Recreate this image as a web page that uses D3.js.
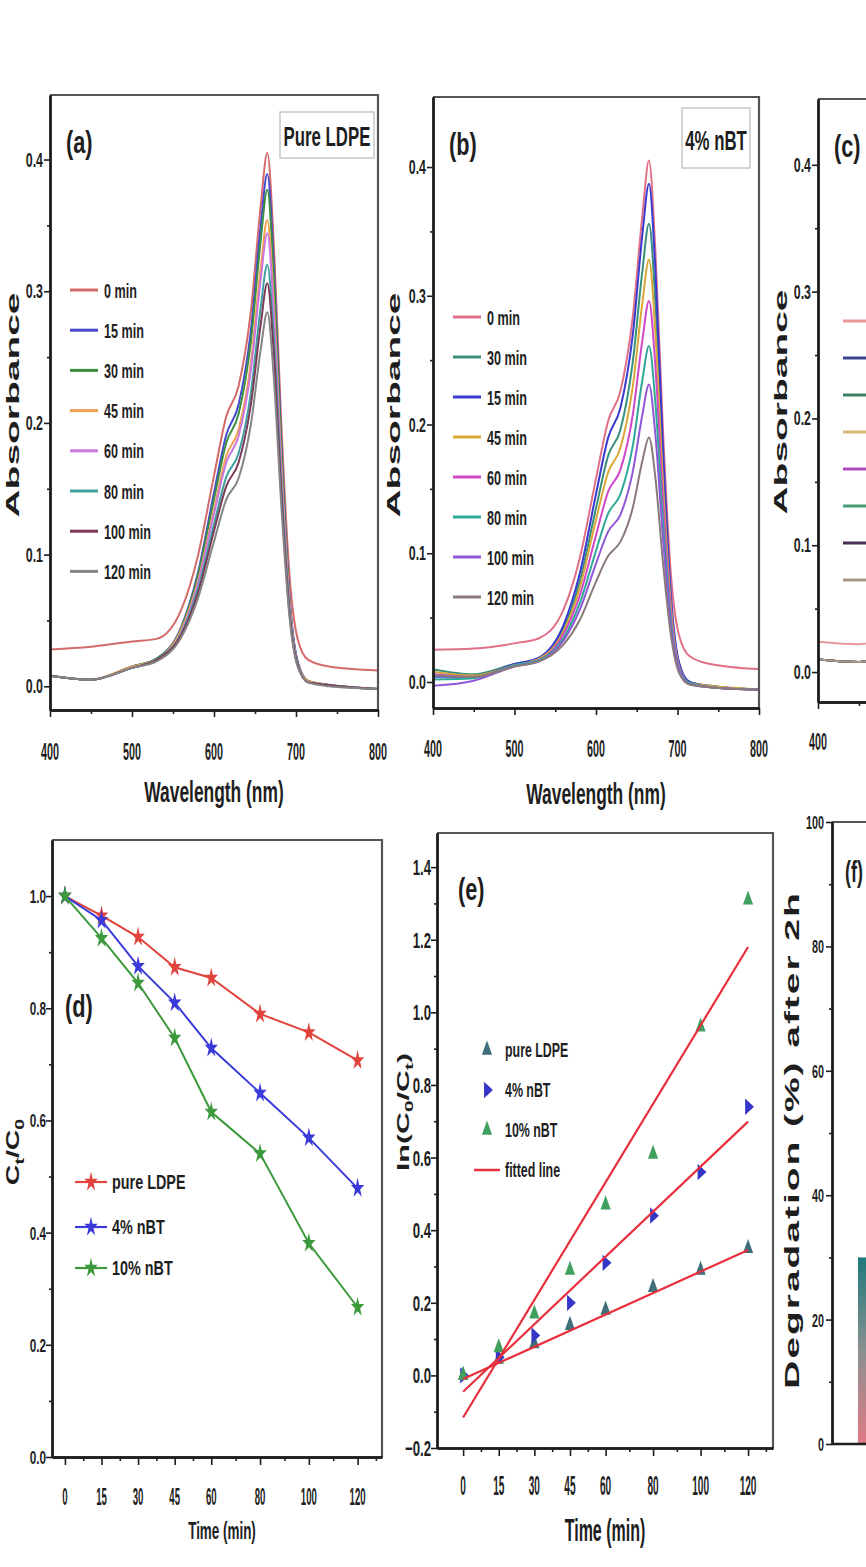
<!DOCTYPE html>
<html><head><meta charset="utf-8">
<script src="https://cdn.jsdelivr.net/npm/d3@7"></script>
<style>body{margin:0;background:#fff;}svg{display:block;}</style>
</head><body>
<svg id="fig" width="866" height="1567"></svg>
<script>
// ---------------- DATA ----------------
const wavelengths = [400,450,500,530,560,580,600,615,630,645,657,665,673,682,692,702,715,740,800];
const xTicksSpectra = [400,500,600,700,800];
const yTicksSpectra = [0.0,0.1,0.2,0.3,0.4];

const labelsA = ["0 min","15 min","30 min","45 min","60 min","80 min","100 min","120 min"];
const spectraA = [
  [0.028,0.030,0.034,0.036,0.058,0.098,0.160,0.205,0.228,0.285,0.365,0.405,0.335,0.200,0.085,0.036,0.020,0.015,0.012],
  [0.008,0.005,0.015,0.021,0.045,0.085,0.147,0.191,0.214,0.270,0.350,0.389,0.320,0.186,0.069,0.019,0.004,0.001,-0.002],
  [0.008,0.005,0.015,0.021,0.044,0.083,0.142,0.185,0.207,0.262,0.339,0.377,0.310,0.181,0.067,0.018,0.004,0.001,-0.002],
  [0.008,0.005,0.015,0.020,0.043,0.079,0.134,0.175,0.195,0.246,0.318,0.354,0.291,0.170,0.064,0.017,0.004,0.001,-0.002],
  [0.008,0.005,0.014,0.020,0.041,0.077,0.131,0.170,0.190,0.240,0.309,0.344,0.283,0.165,0.062,0.017,0.003,0.001,-0.002],
  [0.008,0.005,0.014,0.020,0.040,0.073,0.123,0.159,0.177,0.223,0.288,0.320,0.264,0.154,0.058,0.016,0.003,0.001,-0.002],
  [0.008,0.005,0.014,0.020,0.039,0.070,0.118,0.152,0.170,0.214,0.275,0.306,0.252,0.148,0.056,0.016,0.003,0.001,-0.002],
  [0.008,0.005,0.014,0.019,0.037,0.066,0.110,0.142,0.158,0.199,0.256,0.284,0.234,0.138,0.053,0.015,0.003,0.000,-0.002]
];
const colorsA = ["#d46a6a","#4848d0","#3a9040","#f0a050","#c878e0","#40a0a0","#7a3a58","#858585"];

const labelsB = ["0 min","30 min","15 min","45 min","60 min","80 min","100 min","120 min"];
const spectraB = [
  [0.025,0.026,0.030,0.034,0.056,0.096,0.158,0.203,0.226,0.283,0.363,0.405,0.333,0.198,0.083,0.036,0.020,0.014,0.010],
  [0.010,0.006,0.014,0.018,0.041,0.078,0.135,0.176,0.196,0.248,0.320,0.356,0.293,0.170,0.062,0.014,0.000,-0.003,-0.006],
  [0.004,0.004,0.014,0.019,0.044,0.084,0.146,0.190,0.213,0.269,0.348,0.387,0.318,0.184,0.067,0.015,0.000,-0.003,-0.006],
  [0.008,0.005,0.013,0.018,0.039,0.073,0.126,0.163,0.182,0.229,0.295,0.328,0.270,0.157,0.058,0.012,-0.001,-0.003,-0.006],
  [0.006,0.004,0.013,0.017,0.037,0.067,0.114,0.148,0.165,0.207,0.266,0.296,0.244,0.142,0.052,0.011,-0.001,-0.004,-0.006],
  [0.002,0.003,0.013,0.017,0.034,0.061,0.102,0.131,0.146,0.183,0.235,0.261,0.216,0.126,0.047,0.010,-0.001,-0.004,-0.006],
  [-0.003,0.001,0.012,0.016,0.032,0.056,0.092,0.117,0.130,0.163,0.208,0.231,0.191,0.113,0.042,0.009,-0.002,-0.004,-0.006],
  [0.005,0.004,0.012,0.016,0.029,0.048,0.078,0.098,0.109,0.135,0.172,0.190,0.158,0.094,0.036,0.007,-0.002,-0.004,-0.006]
];
const colorsB = ["#e07088","#38907a","#3a3ad0","#d8a838","#d048c8","#30a898","#9058d8","#8a7a7a"];

const labelsC = ["0 min","15 min","30 min","45 min","60 min","80 min","100 min","120 min"];
const spectraC = [
  [0.024,0.022,0.030,0.035,0.058,0.098,0.160,0.205,0.228,0.285,0.365,0.405,0.335,0.200,0.085,0.038,0.022,0.016,0.012],
  [0.010,0.008,0.018,0.022,0.044,0.082,0.141,0.184,0.206,0.259,0.335,0.373,0.307,0.178,0.065,0.016,0.002,-0.001,-0.004],
  [0.010,0.008,0.017,0.021,0.041,0.076,0.129,0.167,0.187,0.236,0.304,0.338,0.278,0.162,0.059,0.015,0.001,-0.001,-0.004],
  [0.010,0.008,0.017,0.021,0.038,0.069,0.116,0.150,0.167,0.210,0.270,0.300,0.247,0.144,0.053,0.013,0.001,-0.001,-0.004],
  [0.010,0.008,0.016,0.020,0.034,0.060,0.097,0.125,0.139,0.174,0.223,0.247,0.204,0.120,0.045,0.011,0.000,-0.002,-0.004],
  [0.010,0.008,0.016,0.019,0.032,0.054,0.088,0.112,0.124,0.155,0.198,0.219,0.181,0.107,0.040,0.010,0.000,-0.002,-0.004],
  [0.010,0.008,0.015,0.018,0.027,0.042,0.064,0.080,0.089,0.109,0.138,0.152,0.127,0.076,0.029,0.007,-0.001,-0.002,-0.004],
  [0.010,0.008,0.015,0.017,0.023,0.034,0.048,0.059,0.064,0.077,0.096,0.105,0.089,0.055,0.022,0.005,-0.001,-0.003,-0.004]
];
const colorsC = ["#e89898","#3c4490","#3a8060","#d8b870","#b048c0","#4a9a78","#4a3050","#a89888"];

const times = [0,15,30,45,60,80,100,120];
const sampleNames = ["pure LDPE","4% nBT","10% nBT"];
const ratioPure = [1.00,0.965,0.927,0.873,0.854,0.790,0.757,0.707];
const ratio4 = [1.00,0.957,0.875,0.810,0.729,0.649,0.569,0.479];
const ratio10 = [1.00,0.925,0.845,0.747,0.615,0.541,0.381,0.267];
const colorsD = ["#e0443c","#3a3ad8","#3c9a3c"];
const yTicksD = [0.0,0.2,0.4,0.6,0.8,1.0];

const lnPure = [0.00,0.045,0.088,0.138,0.180,0.243,0.290,0.350];
const ln4 = [0.00,0.050,0.110,0.200,0.310,0.440,0.560,0.740];
const ln10 = [0.00,0.077,0.170,0.290,0.470,0.610,0.960,1.310];
const fitIntercept = [-0.010,-0.045,-0.116];
const fitSlope = [0.00296,0.0062,0.0108];
const colorsE = ["#3f6f7a","#3535c8","#40a060"];
const yTicksE = [-0.2,0.0,0.2,0.4,0.6,0.8,1.0,1.2,1.4];

const degradation = [30,53,74];
const yTicksF = [0,20,40,60,80,100];

// ---------------- HELPERS ----------------
const svg = d3.select("#fig");
const FONT = "'Liberation Sans', Arial, sans-serif";
const INK = "#1e1e1e";
const defs = svg.append("defs");

function stxt(g,x,y,s,fs,sx,anchor){
  return g.append("text").attr("transform",`translate(${x},${y}) scale(${sx},1)`)
    .attr("font-family",FONT).attr("font-weight","bold").attr("font-size",fs)
    .attr("text-anchor",anchor||"start").attr("fill",INK).text(s);
}
function rtxt(g,x,y,fs,sl,ls){
  return g.append("text").attr("transform",`translate(${x},${y}) rotate(-90) scale(${sl},1)`)
    .attr("font-family",FONT).attr("font-weight","bold").attr("font-size",fs)
    .attr("letter-spacing",ls||0).attr("text-anchor","middle").attr("fill",INK);
}
function styleAxis(sel){
  sel.select(".domain").attr("stroke",INK).attr("stroke-width",2.4);
  sel.selectAll(".tick line").attr("stroke",INK).attr("stroke-width",1.6);
}
function frame(g,L,R,T,B){
  g.append("path").attr("d",`M${L},${T}H${R}V${B}`).attr("fill","none").attr("stroke","#555").attr("stroke-width",2.2);
}
function leftAxis(g,y,L,major,minor){
  g.append("g").attr("transform",`translate(${L},0)`)
   .call(d3.axisLeft(y).tickValues(major).tickSize(6).tickSizeOuter(0).tickFormat("")).call(styleAxis);
  g.append("g").attr("transform",`translate(${L},0)`)
   .call(d3.axisLeft(y).tickValues(minor).tickSize(3).tickSizeOuter(0).tickFormat("")).call(styleAxis);
}
function bottomAxis(g,x,B,major,minor,sz){
  g.append("g").attr("transform",`translate(0,${B})`)
   .call(d3.axisBottom(x).tickValues(major).tickSize(sz||7).tickSizeOuter(0).tickFormat("")).call(styleAxis);
  g.append("g").attr("transform",`translate(0,${B})`)
   .call(d3.axisBottom(x).tickValues(minor).tickSize(4).tickSizeOuter(0).tickFormat("")).call(styleAxis);
}
const f1 = d3.format(".1f");

// ---------------- SPECTRA PANELS ----------------
function spectraPanel(c){
  const g = svg.append("g");
  const x = d3.scaleLinear([400,800],[c.L,c.R]);
  const y = d3.scaleLinear(c.yDom,[c.B,c.T]);
  defs.append("clipPath").attr("id","clip"+c.id).append("rect")
    .attr("x",c.L).attr("y",c.T).attr("width",c.R-c.L).attr("height",c.B-c.T);
  const line = d3.line().x((d,i)=>x(wavelengths[i])).y(d=>y(d)).curve(d3.curveMonotoneX);
  const lg = g.append("g").attr("clip-path",`url(#clip${c.id})`);
  c.series.forEach((s,i)=>{
    lg.append("path").attr("d",line(s)).attr("fill","none").attr("stroke",c.colors[i]).attr("stroke-width",2);
  });
  frame(g,c.L,c.R,c.T,c.B);
  leftAxis(g,y,c.L,yTicksSpectra,[0.05,0.15,0.25,0.35]);
  bottomAxis(g,x,c.B,xTicksSpectra,[450,550,650,750]);
  yTicksSpectra.forEach(v=>stxt(g,c.L-7,y(v)+7,f1(v),20,0.62,"end"));
  xTicksSpectra.forEach(v=>{ if(x(v)<880) stxt(g,x(v),c.xLabY,String(v),24,0.45,"middle"); });
  if(c.title) stxt(g,(c.L+c.R)/2,c.titleY,"Wavelength (nm)",30,0.58,"middle");
  rtxt(g,c.yLabX,c.yLabY,19,2.05,0).text("Absorbance");
  stxt(g,c.L+16,c.T+58,c.tag,32,0.68,"start");
  if(c.box){
    g.append("rect").attr("x",c.box[0]).attr("y",c.box[1]).attr("width",c.box[2]).attr("height",c.box[3])
      .attr("fill","#fff").attr("stroke","#c8c8c8").attr("stroke-width",1.5);
    stxt(g,c.box[0]+c.box[2]/2,c.box[1]+c.boxTextDy,c.boxText,28,0.6,"middle");
  }
  c.labels.forEach((lab,i)=>{
    const cy = c.legY + i*c.legStep;
    g.append("line").attr("x1",c.legX).attr("x2",c.legX+28).attr("y1",cy).attr("y2",cy)
      .attr("stroke",c.colors[i]).attr("stroke-width",3);
    if(c.legX+34<866) stxt(g,c.legX+34,cy+7.5,lab,21,0.6,"start");
  });
}

spectraPanel({id:"a",L:50,R:378,T:95,B:710,yDom:[-0.018,0.449],series:spectraA,colors:colorsA,labels:labelsA,
  xLabY:760,title:true,titleY:802,yLabX:19,yLabY:405,tag:"(a)",box:[280,112,94,46],boxText:"Pure LDPE",boxTextDy:34,
  legX:70,legY:290,legStep:40.2});
spectraPanel({id:"b",L:433,R:759,T:97,B:708,yDom:[-0.0202,0.4544],series:spectraB,colors:colorsB,labels:labelsB,
  xLabY:757,title:true,titleY:804,yLabX:400,yLabY:405,tag:"(b)",box:[682,108,68,60],boxText:"4% nBT",boxTextDy:42,
  legX:453,legY:317,legStep:40});
spectraPanel({id:"c",L:818,R:1146,T:99,B:702,yDom:[-0.0236,0.4519],series:spectraC,colors:colorsC,labels:labelsC,
  xLabY:750,title:false,yLabX:787,yLabY:402,tag:"(c)",box:null,
  legX:843,legY:321,legStep:37});

// ---------------- PANEL D ----------------
(function(){
  const L=52,R=382,T=840,B=1457;
  const g = svg.append("g");
  const x = d3.scaleLinear([-5.3,130],[L,R]);
  const y = d3.scaleLinear([0,1.1],[B,T]);
  const series = [ratioPure,ratio4,ratio10];
  const line = d3.line().x((d,i)=>x(times[i])).y(d=>y(d));
  const star = d3.symbol().type(d3.symbolStar).size(55)();
  series.forEach((s,k)=>{
    g.append("path").attr("d",line(s)).attr("fill","none").attr("stroke",colorsD[k]).attr("stroke-width",2);
    s.forEach((v,i)=>g.append("path").attr("d",star).attr("fill",colorsD[k])
      .attr("transform",`translate(${x(times[i])},${y(v)}) scale(1,1.5)`));
  });
  frame(g,L,R,T,B);
  leftAxis(g,y,L,yTicksD,[0.1,0.3,0.5,0.7,0.9]);
  bottomAxis(g,x,B,times,[7.5,22.5,37.5,52.5,70,90,110,127.5],8);
  yTicksD.forEach(v=>stxt(g,L-6,y(v)+7,f1(v),19,0.62,"end"));
  times.forEach(v=>stxt(g,x(v),1505,String(v),24,0.4,"middle"));
  stxt(g,222,1539,"Time (min)",24,0.56,"middle");
  stxt(g,65,1017,"(d)",32,0.68,"start");
  const yl = rtxt(g,19,1152,19,1.5,0);
  yl.append("tspan").text("C");
  yl.append("tspan").attr("font-size",13).attr("dy",5).text("t");
  yl.append("tspan").attr("dy",-5).text("/C");
  yl.append("tspan").attr("font-size",13).attr("dy",5).text("0");
  const legY=[1182,1227,1268];
  sampleNames.forEach((n,k)=>{
    g.append("line").attr("x1",75).attr("x2",107).attr("y1",legY[k]).attr("y2",legY[k]).attr("stroke",colorsD[k]).attr("stroke-width",2.2);
    g.append("path").attr("d",star).attr("fill",colorsD[k]).attr("transform",`translate(91,${legY[k]}) scale(1,1.5)`);
    stxt(g,112,legY[k]+7,n,20,0.72,"start");
  });
})();

// ---------------- PANEL E ----------------
(function(){
  const L=437,R=773,T=833,B=1448;
  const g = svg.append("g");
  const x = d3.scaleLinear([-11,130.5],[L,R]);
  const y = d3.scaleLinear([-0.2,1.494],[B,T]);
  const tri = d3.symbol().type(d3.symbolTriangle).size(45)();
  const rots = [0,90,0];
  const series = [lnPure,ln4,ln10];
  series.forEach((s,k)=>{
    s.forEach((v,i)=>g.append("path").attr("d",tri).attr("fill",colorsE[k])
      .attr("transform",`translate(${x(times[i])},${y(v)}) scale(1,1.6) rotate(${rots[k]})`));
  });
  fitSlope.forEach((m,k)=>{
    const b = fitIntercept[k];
    g.append("line").attr("x1",x(0)).attr("y1",y(b)).attr("x2",x(120)).attr("y2",y(b+m*120))
      .attr("stroke","#e8303c").attr("stroke-width",2.2);
  });
  frame(g,L,R,T,B);
  leftAxis(g,y,L,yTicksE,[-0.1,0.1,0.3,0.5,0.7,0.9,1.1,1.3]);
  bottomAxis(g,x,B,times,[7.5,22.5,37.5,52.5,70,90,110,127.5],8);
  yTicksE.forEach(v=>stxt(g,L-6,y(v)+8,f1(v),22,0.6,"end"));
  times.forEach(v=>stxt(g,x(v),1495,String(v),28,0.36,"middle"));
  stxt(g,605,1541,"Time (min)",32,0.5,"middle");
  stxt(g,458,900,"(e)",32,0.68,"start");
  const yl = rtxt(g,409,1112,16,1.9,0);
  yl.append("tspan").text("ln(C");
  yl.append("tspan").attr("font-size",11).attr("dy",4).text("0");
  yl.append("tspan").attr("dy",-4).text("/C");
  yl.append("tspan").attr("font-size",11).attr("dy",4).text("t");
  yl.append("tspan").attr("dy",-4).text(")");
  const legY=[1050,1090,1130];
  sampleNames.forEach((n,k)=>{
    g.append("path").attr("d",tri).attr("fill",colorsE[k]).attr("transform",`translate(487,${legY[k]}) scale(1,1.6) rotate(${rots[k]})`);
    stxt(g,505,legY[k]+7,n,20,0.62,"start");
  });
  g.append("line").attr("x1",474).attr("x2",500).attr("y1",1170).attr("y2",1170).attr("stroke","#e8303c").attr("stroke-width",2.5);
  stxt(g,505,1177,"fitted line",20,0.62,"start");
})();

// ---------------- PANEL F ----------------
(function(){
  const L=832,R=1160,T=822,B=1444;
  const g = svg.append("g");
  const y = d3.scaleLinear([0,100],[B,T]);
  const x = d3.scaleBand(sampleNames,[L,R]).paddingInner(0.258).paddingOuter(0.258);
  const grad = defs.append("linearGradient").attr("id","barGrad").attr("x1",0).attr("y1",0).attr("x2",0).attr("y2",1);
  grad.append("stop").attr("offset","0%").attr("stop-color","#1f7a7c");
  grad.append("stop").attr("offset","50%").attr("stop-color","#8a9090");
  grad.append("stop").attr("offset","100%").attr("stop-color","#e07a84");
  sampleNames.forEach((n,k)=>{
    g.append("rect").attr("x",x(n)).attr("y",y(degradation[k])).attr("width",x.bandwidth())
      .attr("height",y(0)-y(degradation[k])).attr("fill","url(#barGrad)");
  });
  frame(g,L,R,T,B);
  leftAxis(g,y,L,yTicksF,[10,30,50,70,90]);
  g.append("line").attr("x1",L).attr("x2",R).attr("y1",B).attr("y2",B).attr("stroke",INK).attr("stroke-width",2.4);
  yTicksF.forEach(v=>stxt(g,L-8,y(v)+7,String(v),18,0.6,"end"));
  stxt(g,845,882,"(f)",30,0.6,"start");
  rtxt(g,799,1140,20,1.95,1).text("Degradation (%) after 2h");
})();
</script>
</body></html>
